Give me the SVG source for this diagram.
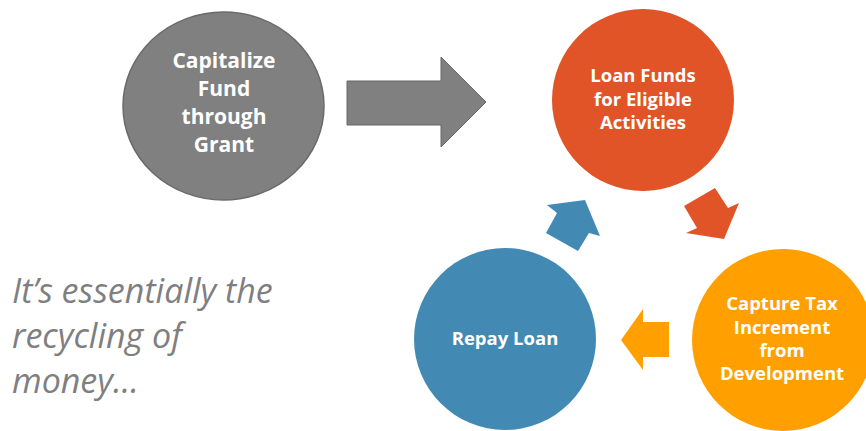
<svg xmlns="http://www.w3.org/2000/svg" width="866" height="431" viewBox="0 0 866 431">
<style>
.lbl{font-family:"Open Sans","Noto Sans","Liberation Sans",sans-serif;font-weight:bold;fill:#ffffff;text-anchor:middle}
.big{font-size:21px}
.sm{font-size:18.5px}
.note{font-family:"Open Sans","Noto Sans","Liberation Sans",sans-serif;font-style:italic;font-size:34px;fill:#7f7f7f}
</style>
<rect width="866" height="431" fill="#ffffff"/>
<g id="connectors">
<polygon id="arrow-grant" points="347,81 441,81 441,57 486,102 441,147 441,125 347,125" fill="#808080" stroke="#666666" stroke-width="1"/>
<polygon id="arrow-loan-capture" points="684,206 715,188 728,208 739,203 724,239 686,233 697,228" fill="#e05427"/>
<polygon id="arrow-capture-repay" points="669,322 643,322 643,309 621,340 643,370 643,357 669,357" fill="#ffa000"/>
<polygon id="arrow-repay-loan" points="578,251 546,233 557,213 547,205 585,200 600,236 589,233" fill="#428ab4"/>
</g>
<g id="node-capitalize">
<ellipse cx="223.5" cy="106" rx="100.5" ry="94" fill="#808080" stroke="#6a6a6a" stroke-width="1.5"/>
<text class="lbl big" x="224" y="68">Capitalize</text>
<text class="lbl big" x="224" y="96">Fund</text>
<text class="lbl big" x="224" y="124">through</text>
<text class="lbl big" x="224" y="152">Grant</text>
</g>
<g id="node-loan">
<circle cx="643" cy="100" r="91" fill="#e05427"/>
<text class="lbl sm" x="643" y="82">Loan Funds</text>
<text class="lbl sm" x="643" y="106">for Eligible</text>
<text class="lbl sm" x="643" y="129">Activities</text>
</g>
<g id="node-capture">
<circle cx="783" cy="340" r="91" fill="#ffa000"/>
<text class="lbl sm" x="782" y="310">Capture Tax</text>
<text class="lbl sm" x="782" y="333.5">Increment</text>
<text class="lbl sm" x="782" y="357">from</text>
<text class="lbl sm" x="782" y="380">Development</text>
</g>
<g id="node-repay">
<circle cx="505" cy="339" r="91" fill="#428ab4"/>
<text class="lbl sm" x="505" y="345">Repay Loan</text>
</g>
<g id="note">
<text class="note" x="12" y="303">It’s essentially the</text>
<text class="note" x="12" y="348">recycling of</text>
<text class="note" x="12" y="393">money…</text>
</g>
</svg>
